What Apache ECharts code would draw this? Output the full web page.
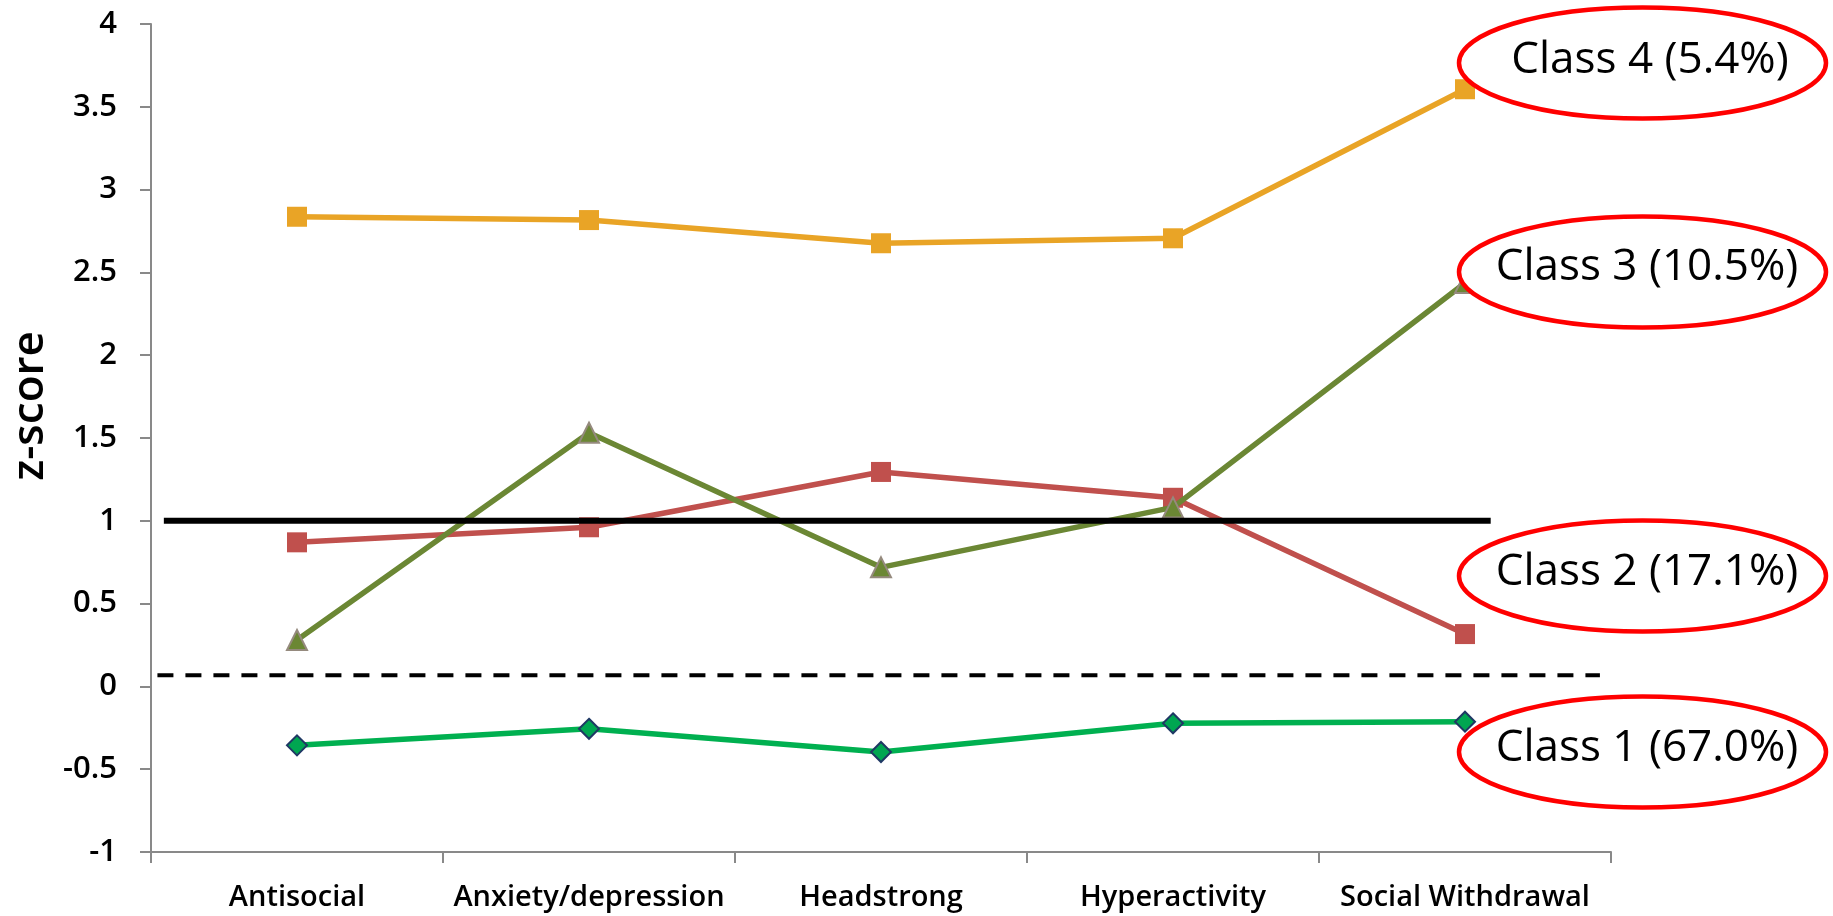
<!DOCTYPE html>
<html>
<head>
<meta charset="utf-8">
<title>Latent class profiles (z-scores)</title>
<script src="https://cdn.jsdelivr.net/npm/echarts@6/dist/echarts.min.js"></script>
<style>
  html, body { margin: 0; padding: 0; background: #ffffff; }
  #chart { width: 1833px; height: 916px; }
</style>
</head>
<body>
<div id="chart"></div>
<script>
// Problem-behaviour domains on the x axis
const categories = ['Antisocial', 'Anxiety/depression', 'Headstrong', 'Hyperactivity', 'Social Withdrawal'];

// Mean z-score profile of each latent class
const class1 = [-0.356, -0.256, -0.396, -0.223, -0.213];
const class2 = [0.870, 0.961, 1.295, 1.139, 0.316];
const class3 = [0.280, 1.532, 0.719, 1.081, 2.436];
const class4 = [2.836, 2.816, 2.676, 2.706, 3.606];

// Class labels and their shares of the sample
const classLabels = ['Class 1 (67.0%)', 'Class 2 (17.1%)', 'Class 3 (10.5%)', 'Class 4 (5.4%)'];

// Y axis scale
const yMin = -1;
const yMax = 4;
const yStep = 0.5;

// Reference lines, given as [position along the category span (0..5), z-score]
const thresholdLine = [[0.044, 1], [4.588, 1]];
const meanLine = [[0.022, 0.068], [4.962, 0.068]];

const chart = echarts.init(document.getElementById('chart'), null, { renderer: 'canvas' });

const axisGray = '#898989';
const uiFont = "'Open Sans', 'Noto Sans', 'Liberation Sans', sans-serif";

function profileSeries(name, data, color, symbol, markerStyle, z) {
  return {
    name: name,
    type: 'line',
    data: data,
    z: z,
    symbol: symbol,
    symbolSize: 20,
    showSymbol: true,
    animation: false,
    lineStyle: { color: color, width: 5.5 },
    itemStyle: Object.assign({ color: color }, markerStyle || {}),
    emphasis: { disabled: true }
  };
}

// Ellipse callouts at the right of the plot
const callouts = [
  { text: classLabels[3], cy: 63, ty: 60, tx: 1650 },
  { text: classLabels[2], cy: 272, ty: 267, tx: 1647 },
  { text: classLabels[1], cy: 576, ty: 572, tx: 1647 },
  { text: classLabels[0], cy: 752, ty: 748, tx: 1647 }
];

const graphicElements = [];
callouts.forEach(function (c) {
  graphicElements.push({
    type: 'ellipse',
    z: 100,
    shape: { cx: 1642.5, cy: c.cy, rx: 183.5, ry: 55.5 },
    style: { fill: '#ffffff', stroke: '#ff0000', lineWidth: 4.5 }
  });
  graphicElements.push({
    type: 'text',
    z: 101,
    x: c.tx,
    y: c.ty,
    style: {
      text: c.text,
      fontFamily: uiFont,
      fontSize: 44,
      fill: '#000000',
      align: 'center',
      verticalAlign: 'middle'
    }
  });
});

const option = {
  backgroundColor: '#ffffff',
  animation: false,
  grid: { left: 150, right: 222, top: 24, bottom: 64, containLabel: false },
  xAxis: [
    {
      type: 'category',
      data: categories,
      boundaryGap: true,
      axisLine: { show: true, onZero: false, lineStyle: { color: axisGray, width: 2 } },
      axisTick: { show: true, length: 11, alignWithLabel: false, lineStyle: { color: axisGray, width: 2 } },
      axisLabel: {
        margin: 31,
        fontFamily: uiFont,
        fontWeight: 600,
        fontSize: 29,
        color: '#000000',
        interval: 0
      },
      splitLine: { show: false }
    },
    {
      // hidden linear companion axis spanning the same width, used by the reference lines
      type: 'value',
      min: 0,
      max: 5,
      show: false,
      position: 'bottom'
    }
  ],
  yAxis: {
    type: 'value',
    min: yMin,
    max: yMax,
    interval: yStep,
    name: 'z-score',
    nameLocation: 'middle',
    nameGap: 99,
    nameRotate: 90,
    nameTextStyle: {
      fontFamily: uiFont,
      fontWeight: 600,
      fontSize: 44,
      color: '#000000',
      padding: [0, 0, 0, 64]
    },
    axisLine: { show: true, lineStyle: { color: axisGray, width: 2 } },
    axisTick: { show: true, length: 11, lineStyle: { color: axisGray, width: 2 } },
    axisLabel: {
      margin: 34,
      fontFamily: uiFont,
      fontWeight: 600,
      fontSize: 31,
      color: '#000000',
      formatter: function (v) { return String(v); }
    },
    splitLine: { show: false }
  },
  series: [
    profileSeries('Class 1', class1, '#00b050', 'diamond', { color: '#00a651', borderColor: '#1f3864', borderWidth: 2 }, 2),
    profileSeries('Class 2', class2, '#c0504d', 'rect', null, 3),
    profileSeries('Class 3', class3, '#6b8734', 'triangle', { borderColor: '#958a7e', borderWidth: 2 }, 4),
    profileSeries('Class 4', class4, '#e9a426', 'rect', null, 5),
    {
      name: 'threshold',
      type: 'line',
      xAxisIndex: 1,
      data: thresholdLine,
      symbol: 'none',
      z: 10,
      lineStyle: { color: '#000000', width: 6 },
      emphasis: { disabled: true }
    },
    {
      name: 'mean',
      type: 'line',
      xAxisIndex: 1,
      data: meanLine,
      symbol: 'none',
      z: 10,
      lineStyle: { color: '#000000', width: 4, type: [16, 12] },
      emphasis: { disabled: true }
    }
  ],
  graphic: graphicElements
};

chart.setOption(option);
</script>
</body>
</html>
